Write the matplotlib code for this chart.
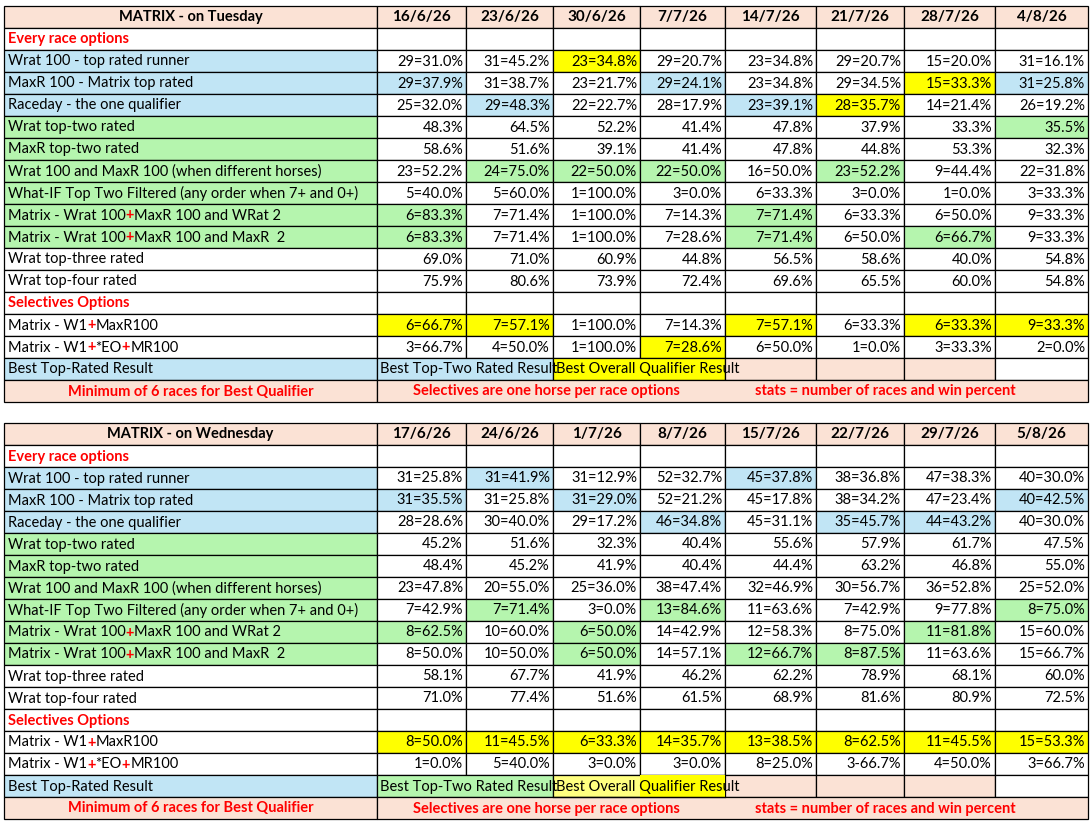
import matplotlib.pyplot as plt
from matplotlib.patches import Rectangle

FONT = "Lato"
plt.rcParams["font.family"] = [FONT, "DejaVu Sans"]

COLORS = {
    "w": "#FFFFFF",
    "b": "#C1E5F5",
    "g": "#B5F5AE",
    "y": "#FFFF00",
    "l": "#FFFF80",
    "s": "#FBE2D5",
}
RED = "#FF0000"

col_edges = [4, 377, 466, 553, 640, 725, 816, 904, 995, 1088]
row_h = 22

labels = [
    "Every race options",
    "Wrat 100 - top rated runner",
    "MaxR 100 - Matrix top rated",
    "Raceday - the one qualifier",
    "Wrat top-two rated",
    "MaxR top-two rated",
    "Wrat 100 and MaxR 100 (when different horses)",
    "What-IF Top Two Filtered (any order when 7+ and 0+)",
    "Matrix - Wrat 100|+|MaxR 100 and WRat 2",
    "Matrix - Wrat 100|+|MaxR 100 and MaxR  2",
    "Wrat top-three rated",
    "Wrat top-four rated",
    "Selectives Options",
    "Matrix - W1|+|MaxR100",
    "Matrix - W1|+|*EO|+|MR100",
]
section_rows = [0, 12]

tue_title = "MATRIX - on Tuesday"
tue_dates = ["16/6/26", "23/6/26", "30/6/26", "7/7/26", "14/7/26", "21/7/26", "28/7/26", "4/8/26"]
tue_values = [
    [""] * 8,
    ["29=31.0%", "31=45.2%", "23=34.8%", "29=20.7%", "23=34.8%", "29=20.7%", "15=20.0%", "31=16.1%"],
    ["29=37.9%", "31=38.7%", "23=21.7%", "29=24.1%", "23=34.8%", "29=34.5%", "15=33.3%", "31=25.8%"],
    ["25=32.0%", "29=48.3%", "22=22.7%", "28=17.9%", "23=39.1%", "28=35.7%", "14=21.4%", "26=19.2%"],
    ["48.3%", "64.5%", "52.2%", "41.4%", "47.8%", "37.9%", "33.3%", "35.5%"],
    ["58.6%", "51.6%", "39.1%", "41.4%", "47.8%", "44.8%", "53.3%", "32.3%"],
    ["23=52.2%", "24=75.0%", "22=50.0%", "22=50.0%", "16=50.0%", "23=52.2%", "9=44.4%", "22=31.8%"],
    ["5=40.0%", "5=60.0%", "1=100.0%", "3=0.0%", "6=33.3%", "3=0.0%", "1=0.0%", "3=33.3%"],
    ["6=83.3%", "7=71.4%", "1=100.0%", "7=14.3%", "7=71.4%", "6=33.3%", "6=50.0%", "9=33.3%"],
    ["6=83.3%", "7=71.4%", "1=100.0%", "7=28.6%", "7=71.4%", "6=50.0%", "6=66.7%", "9=33.3%"],
    ["69.0%", "71.0%", "60.9%", "44.8%", "56.5%", "58.6%", "40.0%", "54.8%"],
    ["75.9%", "80.6%", "73.9%", "72.4%", "69.6%", "65.5%", "60.0%", "54.8%"],
    [""] * 8,
    ["6=66.7%", "7=57.1%", "1=100.0%", "7=14.3%", "7=57.1%", "6=33.3%", "6=33.3%", "9=33.3%"],
    ["3=66.7%", "4=50.0%", "1=100.0%", "7=28.6%", "6=50.0%", "1=0.0%", "3=33.3%", "2=0.0%"],
]
tue_fills = [
    "wwwwwwwww", "bwwywwwww", "bbwwbwwyb", "bwbwwbyww", "gwwwwwwwg", "gwwwwwwww",
    "gwgggwgww", "gwwwwwwww", "ggwwwgwww", "ggwwwgwgw", "wwwwwwwww", "wwwwwwwww",
    "wwwwwwwww", "wyywwywyy", "wwwwywwww",
]
tue_legend = "bbbyysssw"

wed_title = "MATRIX - on Wednesday"
wed_dates = ["17/6/26", "24/6/26", "1/7/26", "8/7/26", "15/7/26", "22/7/26", "29/7/26", "5/8/26"]
wed_values = [
    [""] * 8,
    ["31=25.8%", "31=41.9%", "31=12.9%", "52=32.7%", "45=37.8%", "38=36.8%", "47=38.3%", "40=30.0%"],
    ["31=35.5%", "31=25.8%", "31=29.0%", "52=21.2%", "45=17.8%", "38=34.2%", "47=23.4%", "40=42.5%"],
    ["28=28.6%", "30=40.0%", "29=17.2%", "46=34.8%", "45=31.1%", "35=45.7%", "44=43.2%", "40=30.0%"],
    ["45.2%", "51.6%", "32.3%", "40.4%", "55.6%", "57.9%", "61.7%", "47.5%"],
    ["48.4%", "45.2%", "41.9%", "40.4%", "44.4%", "63.2%", "46.8%", "55.0%"],
    ["23=47.8%", "20=55.0%", "25=36.0%", "38=47.4%", "32=46.9%", "30=56.7%", "36=52.8%", "25=52.0%"],
    ["7=42.9%", "7=71.4%", "3=0.0%", "13=84.6%", "11=63.6%", "7=42.9%", "9=77.8%", "8=75.0%"],
    ["8=62.5%", "10=60.0%", "6=50.0%", "14=42.9%", "12=58.3%", "8=75.0%", "11=81.8%", "15=60.0%"],
    ["8=50.0%", "10=50.0%", "6=50.0%", "14=57.1%", "12=66.7%", "8=87.5%", "11=63.6%", "15=66.7%"],
    ["58.1%", "67.7%", "41.9%", "46.2%", "62.2%", "78.9%", "68.1%", "60.0%"],
    ["71.0%", "77.4%", "51.6%", "61.5%", "68.9%", "81.6%", "80.9%", "72.5%"],
    [""] * 8,
    ["8=50.0%", "11=45.5%", "6=33.3%", "14=35.7%", "13=38.5%", "8=62.5%", "11=45.5%", "15=53.3%"],
    ["1=0.0%", "5=40.0%", "3=0.0%", "3=0.0%", "8=25.0%", "3-66.7%", "4=50.0%", "3=66.7%"],
]
wed_fills = [
    "wwwwwwwww", "bwbwwbwww", "bbwbwwwwb", "bwwwbwbbw", "gwwwwwwww", "gwwwwwwww",
    "gwwwwwwww", "gwgwgwwwg", "ggwgwwwgw", "gwwgwggww", "wwwwwwwww", "wwwwwwwww",
    "wwwwwwwww", "wyyyyyyyy", "wwwwwwwww",
]
wed_legend = "bgglysssw"

legend_label = "Best Top-Rated Result"
legend_two = "Best Top-Two Rated Result"
legend_overall = "Best Overall Qualifier Result"
footer_texts = ["Minimum of 6 races for Best Qualifier",
                "Selectives are one horse per race options",
                "stats = number of races and win percent"]

FS = 10.5
fig = plt.figure(figsize=(10.91, 8.25), dpi=100)
ax = fig.add_axes([0, 0, 1, 1])
ax.set_xlim(0, 1091)
ax.set_ylim(825, 0)
ax.axis("off")
renderer = fig.canvas.get_renderer()


def cell(x0, x1, y0, code):
    ax.add_patch(Rectangle((x0, y0), x1 - x0, row_h, facecolor=COLORS[code],
                           edgecolor="black", linewidth=0.9))


def rich_label(x, y, label):
    parts = label.split("|")
    for p in parts:
        red = p == "+"
        t = ax.text(x, y, p, ha="left", va="center", fontsize=FS,
                    color=RED if red else "black", fontweight="bold" if red else "normal")
        bb = t.get_window_extent(renderer)
        x += bb.width


def draw_table(top, title, dates, values, fills, legend):
    # header
    for i in range(9):
        cell(col_edges[i], col_edges[i + 1], top, "s")
    ax.text((col_edges[0] + col_edges[1]) / 2, top + row_h / 2, title, ha="center", va="center",
            fontsize=FS, fontweight="bold")
    for i, d in enumerate(dates):
        ax.text((col_edges[i + 1] + col_edges[i + 2]) / 2, top + row_h / 2, d, ha="center",
                va="center", fontsize=FS + 0.5, fontweight="bold")
    # body
    for r, lab in enumerate(labels):
        y0 = top + (r + 1) * row_h
        yc = y0 + row_h / 2 + 0.5
        for i in range(9):
            cell(col_edges[i], col_edges[i + 1], y0, fills[r][i])
        if r in section_rows:
            ax.text(col_edges[0] + 4, yc, lab, ha="left", va="center", fontsize=FS,
                    fontweight="bold", color=RED)
        else:
            rich_label(col_edges[0] + 4, yc, lab)
        for i, v in enumerate(values[r]):
            ax.text(col_edges[i + 2] - 3, yc, v, ha="right", va="center", fontsize=FS)
    # legend row
    y0 = top + 16 * row_h
    yc = y0 + row_h / 2 + 0.5
    spans = [(0, 1), (1, 3), (3, 5), (5, 6), (6, 7), (7, 8), (8, 9)]
    for a, b in spans:
        ax.add_patch(Rectangle((col_edges[a], y0), col_edges[b] - col_edges[a], row_h,
                               facecolor=COLORS[legend[a]], edgecolor="black", linewidth=0.9))
    if legend[3] == "l":
        ax.add_patch(Rectangle((col_edges[4], y0), col_edges[5] - col_edges[4], row_h,
                               facecolor=COLORS["y"], edgecolor="none"))
        ax.plot([col_edges[3], col_edges[5]], [y0 + row_h, y0 + row_h], color="black", lw=0.9)
    ax.text(col_edges[0] + 4, yc, legend_label, ha="left", va="center", fontsize=FS)
    t = ax.text(col_edges[1] + 3, yc, legend_two, ha="left", va="center", fontsize=FS)
    clip = Rectangle((col_edges[1], y0), col_edges[3] - col_edges[1], row_h, transform=ax.transData)
    t.set_clip_path(clip)
    ax.text(col_edges[3] + 3, yc, legend_overall, ha="left", va="center", fontsize=FS)
    # footer
    y0 = top + 17 * row_h
    yc = y0 + row_h / 2 + 0.5
    for a, b in [(0, 1), (1, 9)]:
        ax.add_patch(Rectangle((col_edges[a], y0), col_edges[b] - col_edges[a], row_h,
                               facecolor=COLORS["s"], edgecolor="black", linewidth=0.9))
    for x, txt in zip([(col_edges[0] + col_edges[1]) / 2, 546, 885], footer_texts):
        ax.text(x, yc, txt, ha="center", va="center", fontsize=FS, fontweight="bold", color=RED)


draw_table(6, tue_title, tue_dates, tue_values, tue_fills, tue_legend)
draw_table(423, wed_title, wed_dates, wed_values, wed_fills, wed_legend)

fig.savefig("out.png", dpi=100)
